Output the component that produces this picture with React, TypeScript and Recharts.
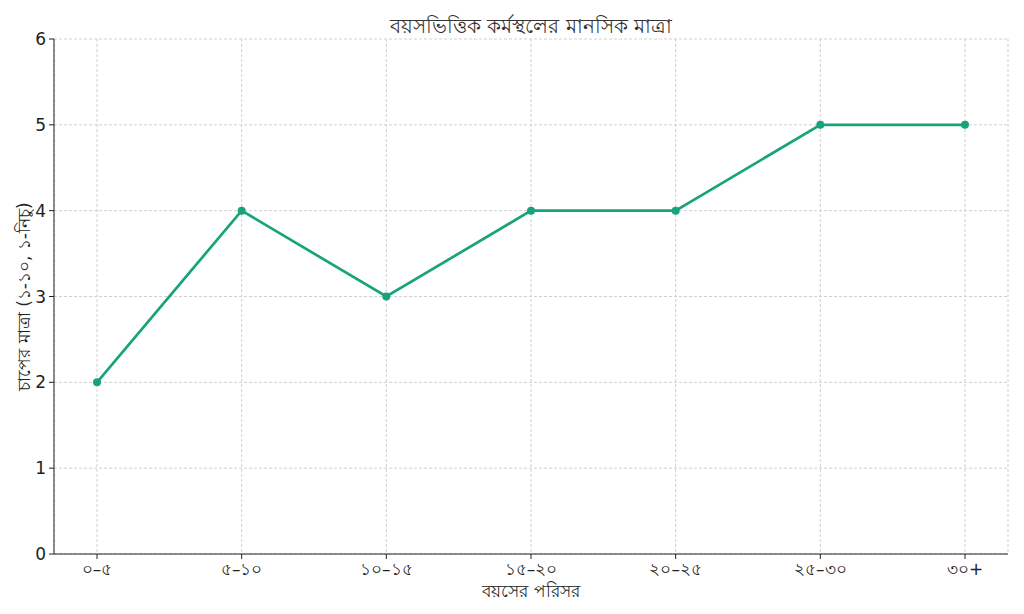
import React from "react"
import { LineChart, Line, XAxis, YAxis, CartesianGrid } from "recharts"

const ranges = ["০–৫", "৫–১০", "১০–১৫", "১৫–২০", "২০–২৫", "২৫–৩০", "৩০+"]
const levels = [2, 4, 3, 4, 4, 5, 5]
const yTicks = [0, 1, 2, 3, 4, 5, 6]

const title = "বয়সভিত্তিক কর্মস্থলের মানসিক মাত্রা"
const xLabel = "বয়সের পরিসর"
const yLabel = "চাপের মাত্রা (১-১০, ১-নিচু)"

const data = ranges.map((r, i) => ({ range: r, level: levels[i] }))

const font = "DejaVu Sans, sans-serif"

export default function App() {
  return (
    <div style={{ position: "absolute", left: 0, top: 0, width: 1024, height: 614, background: "#fff", fontFamily: font }}>
      <style>{"body{margin:0}"}</style>
      <div style={{ position: "absolute", top: 11, left: 54, width: 954, textAlign: "center", fontSize: 20, color: "#333" }}>
        {title}
      </div>
      <LineChart width={1024} height={614} data={data} margin={{ top: 39, right: 16, left: 0, bottom: 0 }}>
        <CartesianGrid stroke="#d0d0d0" strokeDasharray="3 2" />
        <XAxis
          dataKey="range"
          padding={{ left: 43, right: 43 }}
          height={60}
          tick={{ fill: "#222", fontSize: 17, fontFamily: font }}
          tickSize={5}
          tickMargin={4}
          stroke="#222"
          label={{ value: xLabel, position: "insideBottom", offset: 17, fill: "#222", fontSize: 17, fontFamily: font }}
        />
        <YAxis
          domain={[0, 6]}
          ticks={yTicks}
          width={54}
          tick={{ fill: "#222", fontSize: 17, fontFamily: font }}
          tickSize={5}
          tickMargin={3}
          stroke="#222"
          label={{ value: yLabel, angle: -90, position: "insideLeft", offset: 24, style: { textAnchor: "middle" }, fill: "#222", fontSize: 17, fontFamily: font }}
        />
        <Line
          type="linear"
          dataKey="level"
          stroke="#17a37b"
          strokeWidth={2.7}
          dot={{ r: 4, fill: "#17a37b", stroke: "#17a37b", strokeWidth: 0 }}
          activeDot={false}
          isAnimationActive={false}
        />
      </LineChart>
    </div>
  )
}
